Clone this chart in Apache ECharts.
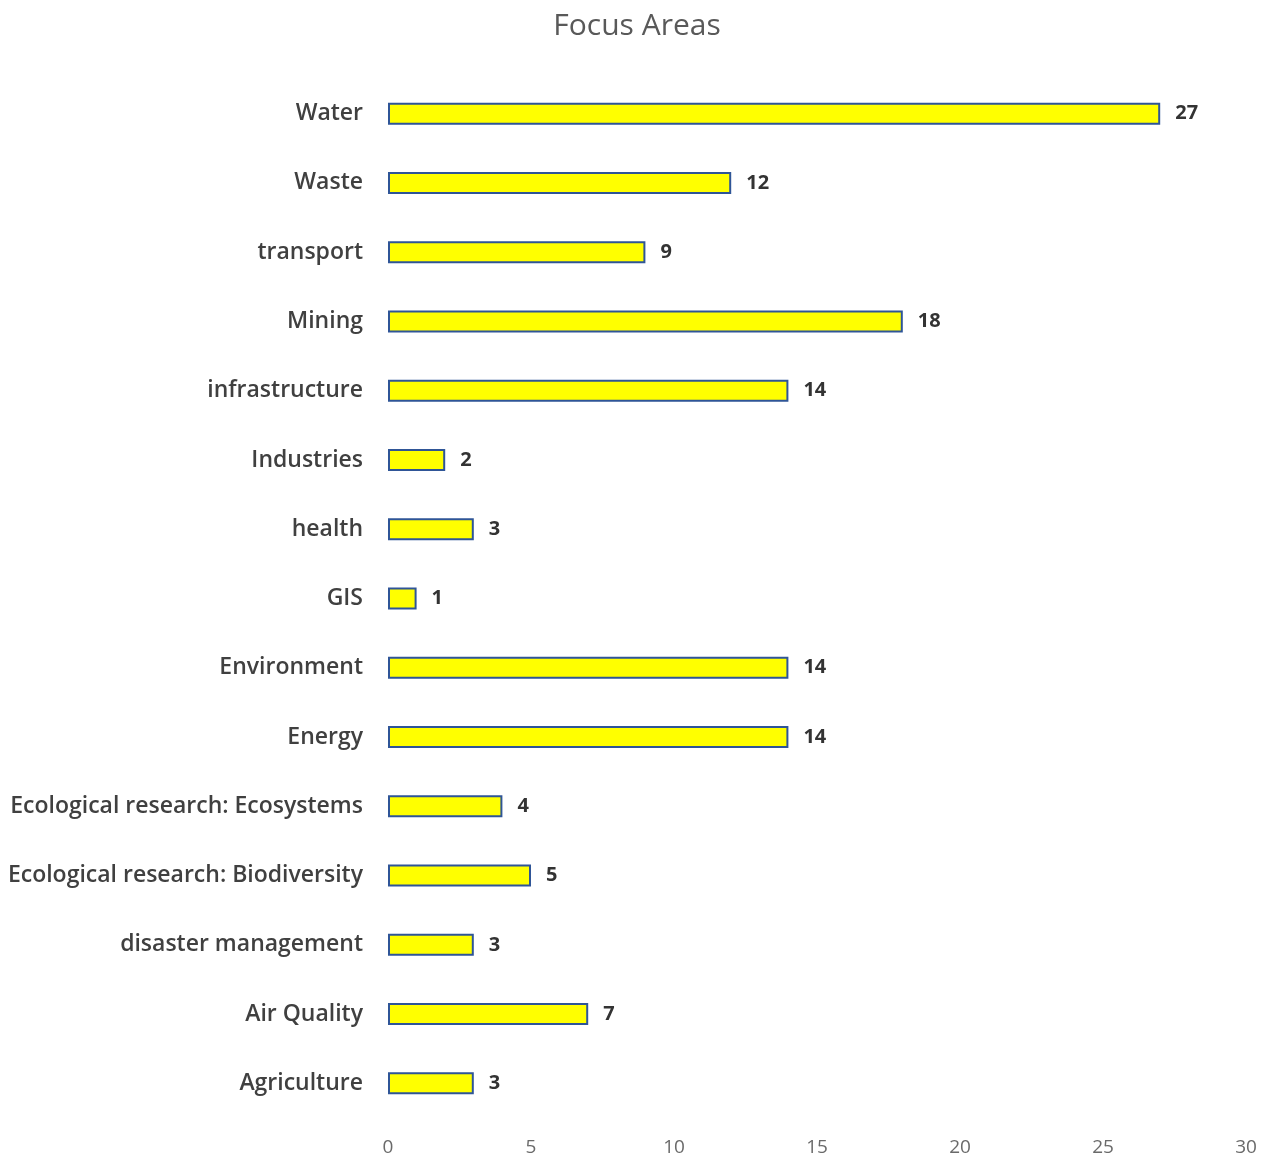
<!DOCTYPE html>
<html><head><meta charset="utf-8">
<script src="https://cdn.jsdelivr.net/npm/echarts@6/dist/echarts.min.js"></script>
<style>html,body{margin:0;padding:0;background:#fff}#c{width:1274px;height:1159px}</style>
</head><body><div id="c"></div>
<script>
const categories = ["Water","Waste","transport","Mining","infrastructure","Industries","health","GIS","Environment","Energy","Ecological research: Ecosystems","Ecological research: Biodiversity","disaster management","Air Quality","Agriculture"];
const values = [27,12,9,18,14,2,3,1,14,14,4,5,3,7,3];
const xTicks = {min:0, max:30, interval:5};

const chart = echarts.init(document.getElementById('c'));
chart.setOption({
  animation:false,
  backgroundColor:'#fff',
  title:{text:'Focus Areas', left:'center', top:6, textStyle:{fontFamily:'Open Sans', fontSize:30, fontWeight:'normal', color:'#595959'}},
  grid:{left:388, right:28, top:79, bottom:41, containLabel:false},
  xAxis:{type:'value', min:xTicks.min, max:xTicks.max, interval:xTicks.interval,
    axisLine:{show:false}, axisTick:{show:false}, splitLine:{show:false},
    axisLabel:{fontFamily:'Open Sans', fontSize:19, color:'#6a6a6a', margin:20}},
  yAxis:{type:'category', data:categories, inverse:true,
    axisLine:{show:false}, axisTick:{show:false},
    axisLabel:{fontFamily:'Open Sans', fontSize:23, fontWeight:600, color:'#404040', margin:25}},
  series:[{type:'bar', data:values, barWidth:22,
    itemStyle:{color:'#ffff00', borderColor:'#2f5597', borderWidth:2},
    label:{show:true, position:'right', distance:15, fontFamily:'Open Sans', fontWeight:'bold', fontSize:20, color:'#333'}}]
});
</script></body></html>
